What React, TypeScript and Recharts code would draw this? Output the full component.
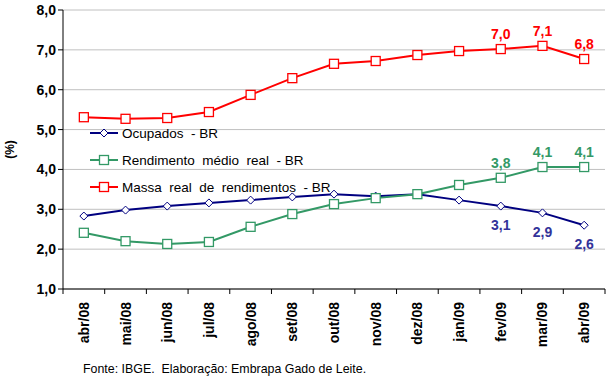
import { CartesianGrid, LabelList, Line, LineChart, XAxis, YAxis } from "recharts";

const months = ["abr/08", "mai/08", "jun/08", "jul/08", "ago/08", "set/08", "out/08", "nov/08", "dez/08", "jan/09", "fev/09", "mar/09", "abr/09"];
const ocupados = [2.83, 2.98, 3.08, 3.16, 3.23, 3.31, 3.38, 3.33, 3.38, 3.23, 3.08, 2.91, 2.6];
const rendimento = [2.41, 2.2, 2.13, 2.18, 2.56, 2.88, 3.13, 3.28, 3.38, 3.61, 3.79, 4.06, 4.06];
const massa = [5.31, 5.27, 5.29, 5.44, 5.87, 6.29, 6.65, 6.72, 6.87, 6.97, 7.02, 7.1, 6.77];
const yTicks = [1, 2, 3, 4, 5, 6, 7, 8];

const data = months.map((m, i) => ({ m, ocupados: ocupados[i], rendimento: rendimento[i], massa: massa[i] }));

const FONT = "'Liberation Sans', Arial, sans-serif";
const BLUE = "#000080";
const GREEN = "#339966";
const RED = "#ff0000";
const BAND = 542 / 13;

const fmt = (v: number) => v.toFixed(1).replace(".", ",");

function XTick(props: any) {
	const { x, y, payload, index } = props;
	const half = BAND / 2;
	return (
		<g>
			<line x1={x - half} x2={x - half} y1={y - 8} y2={y - 3} stroke="#000" />
			{index === months.length - 1 && <line x1={x + half} x2={x + half} y1={y - 8} y2={y - 3} stroke="#000" />}
			<text
				x={0}
				y={0}
				transform={`translate(${x + 5},${y + 5}) rotate(-90)`}
				textAnchor="end"
				fontFamily={FONT}
				fontWeight="bold"
				fontSize={14}
				fill="#000"
			>
				{payload.value}
			</text>
		</g>
	);
}

function makeLabel(color: string, below: boolean) {
	return (props: any) => {
		const { x, y, value, index } = props;
		if (index < 10) return null;
		return (
			<text x={x} y={below ? y + 24 : y - 10} textAnchor="middle" fontFamily={FONT} fontWeight="bold" fontSize={14} fill={color}>
				{fmt(value)}
			</text>
		);
	};
}

function Diamond(props: any) {
	const { cx, cy } = props;
	if (cx == null || cy == null) return null;
	return <polygon points={`${cx},${cy - 4} ${cx + 4},${cy} ${cx},${cy + 4} ${cx - 4},${cy}`} fill="#fff" stroke={BLUE} strokeWidth={1} />;
}

function makeSquare(color: string) {
	return (props: any) => {
		const { cx, cy } = props;
		if (cx == null || cy == null) return null;
		return <rect x={cx - 4.5} y={cy - 4.5} width={9} height={9} fill="#fff" stroke={color} strokeWidth={1.3} />;
	};
}

const legendItems = [
	{ name: "Ocupados  - BR", color: BLUE, diamond: true },
	{ name: "Rendimento  médio  real  - BR", color: GREEN, diamond: false },
	{ name: "Massa  real  de  rendimentos  - BR", color: RED, diamond: false },
];

function LegendBox() {
	return (
		<svg width={260} height={80} style={{ position: "absolute", left: 88, top: 125 }}>
			{legendItems.map((it, i) => {
				const cy = 8 + i * 27;
				return (
					<g key={it.name}>
						<line x1={2} x2={30} y1={cy} y2={cy} stroke={it.color} strokeWidth={2} />
						{it.diamond ? (
							<polygon points={`16,${cy - 4} 20,${cy} 16,${cy + 4} 12,${cy}`} fill="#fff" stroke={it.color} />
						) : (
							<rect x={11.5} y={cy - 4.5} width={9} height={9} fill="#fff" stroke={it.color} strokeWidth={1.3} />
						)}
						<text x={34} y={cy + 5} fontFamily={FONT} fontSize={13.5} fill="#000" style={{ whiteSpace: "pre" }}>
							{it.name}
						</text>
					</g>
				);
			})}
		</svg>
	);
}

export default function App() {
	return (
		<div style={{ position: "absolute", left: 0, top: 0, width: 609, height: 379, background: "#fff" }}>
			<LineChart width={609} height={379} data={data} margin={{ top: 10, right: 4, bottom: 40, left: 0 }}>
				<CartesianGrid vertical={false} stroke="#c0c0c0" />
				<XAxis
					dataKey="m"
					height={50}
					interval={0}
					padding={{ left: BAND / 2, right: BAND / 2 }}
					axisLine={{ stroke: "#000" }}
					tickLine={false}
					tick={<XTick />}
				/>
				<YAxis
					domain={[1, 8]}
					ticks={yTicks}
					width={63}
					axisLine={{ stroke: "#000" }}
					tickLine={{ stroke: "#000" }}
					tickSize={5}
					tickFormatter={fmt}
					tick={{ fontFamily: FONT, fontWeight: "bold", fontSize: 14, fill: "#000" }}
					label={{ value: "(%)", angle: -90, position: "insideLeft", offset: 10, style: { fontFamily: FONT, fontWeight: "bold", fontSize: 12, fill: "#000", textAnchor: "middle" } }}
				/>
				<Line dataKey="ocupados" stroke={BLUE} strokeWidth={2} dot={<Diamond />} isAnimationActive={false}>
					<LabelList dataKey="ocupados" content={makeLabel("#333399", true)} />
				</Line>
				<Line dataKey="rendimento" stroke={GREEN} strokeWidth={2} dot={makeSquare(GREEN)} isAnimationActive={false}>
					<LabelList dataKey="rendimento" content={makeLabel(GREEN, false)} />
				</Line>
				<Line dataKey="massa" stroke={RED} strokeWidth={2} dot={makeSquare(RED)} isAnimationActive={false}>
					<LabelList dataKey="massa" content={makeLabel(RED, false)} />
				</Line>
			</LineChart>
			<LegendBox />
			<div style={{ position: "absolute", left: 83, top: 362, fontFamily: FONT, fontSize: 12.4, color: "#000", whiteSpace: "pre" }}>
				Fonte: IBGE.  Elaboração: Embrapa Gado de Leite.
			</div>
		</div>
	);
}
